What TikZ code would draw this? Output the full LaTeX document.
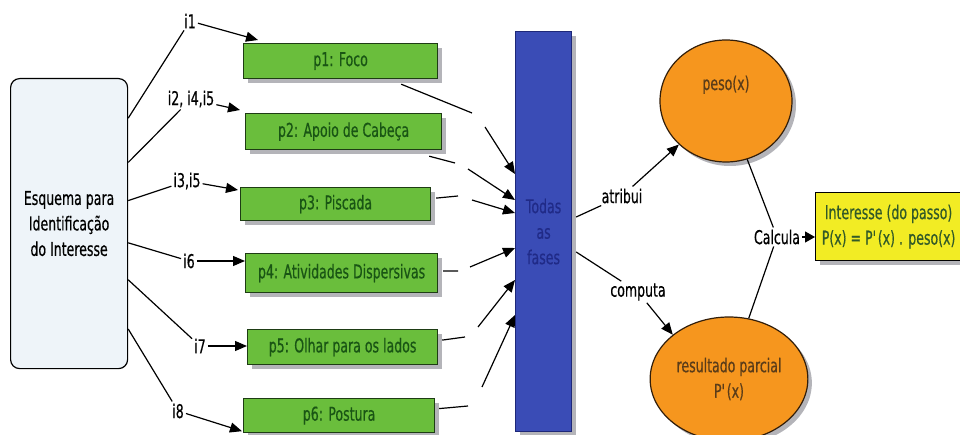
\documentclass[tikz,border=0pt]{standalone}
\usepackage{fontspec}
\setmainfont{DejaVu Sans}[FakeStretch=0.66,FakeBold=0.5]
\usetikzlibrary{arrows.meta,shapes.geometric,shadows,calc}

\definecolor{boxgreen}{RGB}{106,190,60}
\definecolor{pborder}{RGB}{30,60,20}
\definecolor{ptext}{RGB}{25,85,20}
\definecolor{barblue}{RGB}{58,76,182}
\definecolor{bardark}{RGB}{30,40,120}
\definecolor{bartext}{RGB}{32,42,135}
\definecolor{orangefill}{RGB}{246,150,30}
\definecolor{ellborder}{RGB}{50,30,10}
\definecolor{elltext}{RGB}{90,60,25}
\definecolor{yellowfill}{RGB}{242,236,36}
\definecolor{ytext}{RGB}{50,90,40}
\definecolor{esqfill}{RGB}{238,244,249}
\definecolor{shadowgray}{RGB}{180,180,185}

\tikzset{
  boxshadow/.style={drop shadow={shadow xshift=4pt,shadow yshift=-4pt,fill=shadowgray,opacity=1}},
  pbox/.style={draw=pborder, line width=1.2pt, fill=boxgreen, text=ptext,
    anchor=north west, inner sep=2pt, boxshadow},
  ellnode/.style={ellipse, draw=ellborder, line width=1.2pt, fill=orangefill,
    text=elltext, align=center, boxshadow},
  lbl/.style={inner sep=2pt},
  conn/.style={line width=1.2pt, black},
  arr/.style={conn, -{Triangle[length=12pt,width=10pt]}},
  smallarr/.style={conn, -{Triangle[length=10pt,width=11pt]}},
}

\begin{document}
\begin{tikzpicture}[x=1pt, y=-1pt, font=\fontsize{19}{25.5}\selectfont]
\useasboundingbox (0,0) rectangle (960,435);
\clip (0,0) rectangle (960,435);

% source box
\node[draw, line width=1.2pt, rounded corners=9pt, fill=esqfill, anchor=north west,
  minimum width=117pt, minimum height=290pt, align=center] (esq) at (10,78)
  {Esquema para\\Identificação\\do Interesse};

% parameter boxes
\node[pbox, minimum width=194pt, minimum height=35pt] (p1) at (243,43) {p1: Foco};
\node[pbox, minimum width=196pt, minimum height=36pt] (p2) at (245,113) {p2: Apoio de Cabeça};
\node[pbox, minimum width=190pt, minimum height=33pt] (p3) at (240,187) {p3: Piscada};
\node[pbox, minimum width=192pt, minimum height=39pt] (p4) at (245,253) {p4: Atividades Dispersivas};
\node[pbox, minimum width=190pt, minimum height=35pt] (p5) at (247,329) {p5: Olhar para os lados};
\node[pbox, minimum width=191pt, minimum height=34pt] (p6) at (243,398) {p6: Postura};

% phases bar
\node[draw=bardark, line width=1.2pt, fill=barblue, text=bartext, anchor=north west,
  minimum width=56pt, minimum height=400pt, align=center, boxshadow] (bar) at (515,31)
  {Todas\\as\\fases};

% result ellipses
\node[ellnode, minimum width=132pt, minimum height=122pt, text height=10pt, text depth=32pt]
  (peso) at (726,101) {peso(x)};
\node[ellnode, minimum width=138pt, minimum height=124pt] (res) at (729,379)
  {resultado parcial\\P\textquotesingle(x)};

% interest box
\node[draw, line width=1.2pt, fill=yellowfill, text=ytext, anchor=north west,
  minimum width=146pt, minimum height=68pt, align=center, boxshadow] (yel) at (815,192)
  {Interesse (do passo)\\P(x) = P\textquotesingle(x) . peso(x)};

% indicator labels
\node[lbl] (i1) at (190,21) {i1};
\node[lbl] (i2) at (191,99) {i2, i4,i5};
\node[lbl] (i3) at (187,181) {i3,i5};
\node[lbl] (i6) at (189,261) {i6};
\node[lbl] (i7) at (200,346) {i7};
\node[lbl] (i8) at (178,411) {i8};

% indicators: source box -> label -> parameter
\draw[conn] ($(esq.north east)!0.138!(esq.south east)$) -- (i1);
\draw[arr] (i1) -- ([shift={(15,-3)}]p1.north west);
\draw[conn] ($(esq.north east)!0.290!(esq.south east)$) -- (i2);
\draw[arr] (i2) -- ([shift={(-5,-3)}]p2.north west);
\draw[conn] ($(esq.north east)!0.421!(esq.south east)$) -- (i3);
\draw[arr] (i3) -- ([shift={(-2,3)}]p3.north west);
\draw[conn] ($(esq.north east)!0.566!(esq.south east)$) -- (i6);
\draw[arr] (i6) -- (p4.west |- i6);
\draw[conn] ($(esq.north east)!0.693!(esq.south east)$) -- (i7);
\draw[arr] (i7) -- (p5.west |- i7);
\draw[conn] ($(esq.north east)!0.862!(esq.south east)$) -- (i8);
\draw[arr] (i8) -- ([shift={(-1,-2)}]p6.south west);

% parameters -> phases (each connector broken in the middle)
\coordinate (g1a) at (472,113); \coordinate (g1b) at (485,127);
\coordinate (g2a) at (455,163); \coordinate (g2b) at (468,169);
\coordinate (g3a) at (458,196); \coordinate (g3b) at (472,200);
\coordinate (g4a) at (458,271); \coordinate (g4b) at (470,267);
\coordinate (g5a) at (465,337); \coordinate (g5b) at (478,327);
\coordinate (g6a) at (468,406); \coordinate (g6b) at (482,387);

\draw[conn] ([shift={(-37,5)}]p1.south east) -- (g1a);
\draw[arr] (g1b) -- (bar.west |- 0,174);
\draw[conn] ([shift={(-13,6)}]p2.south east) -- (g2a);
\draw[arr] (g2b) -- (bar.west |- 0,200);
\draw[conn] ([shift={(5,-6)}]p3.east) -- (g3a);
\draw[arr] (g3b) -- (bar.west |- 0,213);
\draw[conn] ([shift={(5,-2)}]p4.east) -- (g4a);
\draw[arr] (g4b) -- (bar.west |- 0,248);
\draw[conn] ([shift={(4,-7)}]p5.east) -- (g5a);
\draw[arr] (g5b) -- (bar.west |- 0,280);
\draw[conn] ([shift={(4,-7)}]p6.east) -- (g6a);
\draw[arr] (g6b) -- (bar.west |- 0,315);

% phases -> ellipses
\node[lbl] (atr) at (622,196) {atribui};
\node[lbl] (comp) at (638,292) {computa};
\draw[conn] ([xshift=4pt]bar.east |- 0,217) -- (atr);
\draw[arr] (atr) -- (peso.south west);
\draw[conn] ([xshift=4pt]bar.east |- 0,252) -- (comp);
\draw[arr] (comp) -- (res.north west);

% ellipses -> interest
\node[lbl] (calc) at (777,237) {Calcula};
\draw[conn] (peso.-70) -- (calc);
\draw[conn] (calc) -- (res.72);
\draw[smallarr] (calc.east) -- (yel.west |- calc);
\end{tikzpicture}
\end{document}
